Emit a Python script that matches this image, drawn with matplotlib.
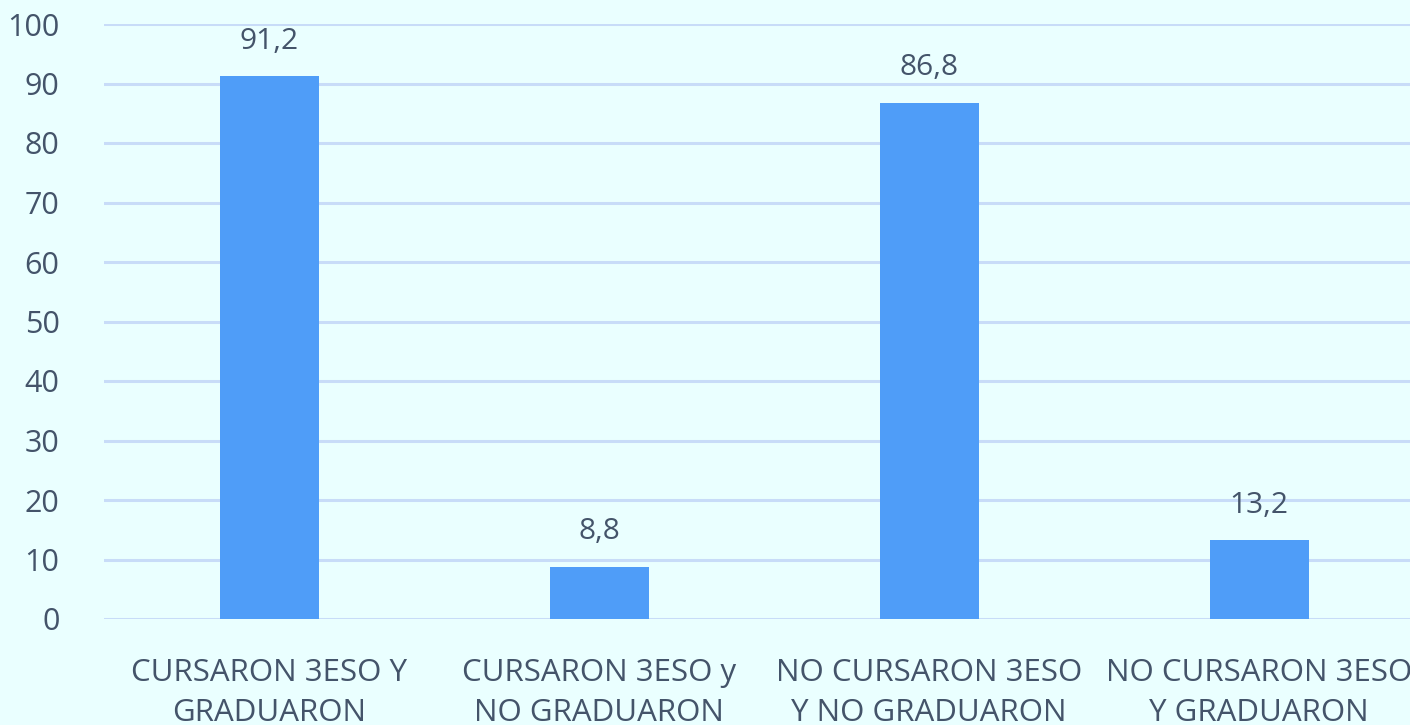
import matplotlib
matplotlib.use("Agg")
import matplotlib.pyplot as plt
from matplotlib import font_manager

categories = ["CURSARON 3ESO Y\nGRADUARON", "CURSARON 3ESO y\nNO GRADUARON",
              "NO CURSARON 3ESO\nY NO GRADUARON", "NO CURSARON 3ESO\nY GRADUARON"]
values = [91.2, 8.8, 86.8, 13.2]
value_labels = ["91,2", "8,8", "86,8", "13,2"]
yticks = [0, 10, 20, 30, 40, 50, 60, 70, 80, 90, 100]

names = {f.name for f in font_manager.fontManager.ttflist}
fam = "Liberation Sans Narrow" if "Liberation Sans Narrow" in names else "Open Sans"
plt.rcParams['font.family'] = [fam, 'DejaVu Sans']

bg = "#EAFFFF"
bar_c = "#4F9DF8"
grid_c = "#C8DCF8"
txt_c = "#44546A"

fig = plt.figure(figsize=(14.10, 7.25), dpi=100, facecolor=bg)
ax = fig.add_axes([104/1410, 106/725, 1320/1410, 595/725])
ax.set_facecolor(bg)
x = list(range(len(categories)))
ax.bar(x, values, width=0.30, color=bar_c, zorder=3)
ax.set_xlim(-0.5, 3.5)
ax.set_ylim(0, 100)
ax.set_yticks(yticks)
ax.set_yticklabels([str(t) for t in yticks])
ax.yaxis.grid(True, color=grid_c, linewidth=2.2, zorder=0)
for s in ax.spines.values():
    s.set_visible(False)
ax.tick_params(axis='y', length=0, pad=32, labelsize=22, labelcolor=txt_c)
ax.tick_params(axis='x', length=0, pad=28, labelsize=22.5, labelcolor=txt_c)
ax.set_xticks(x)
ax.set_xticklabels(categories, linespacing=1.45)
for xi, v, lab in zip(x, values, value_labels):
    ax.annotate(lab, (xi, v), xytext=(0, 35), textcoords='offset pixels',
                ha='center', va='center', fontsize=21.5, color=txt_c)
fig.savefig("out.png", dpi=100, facecolor=bg)
